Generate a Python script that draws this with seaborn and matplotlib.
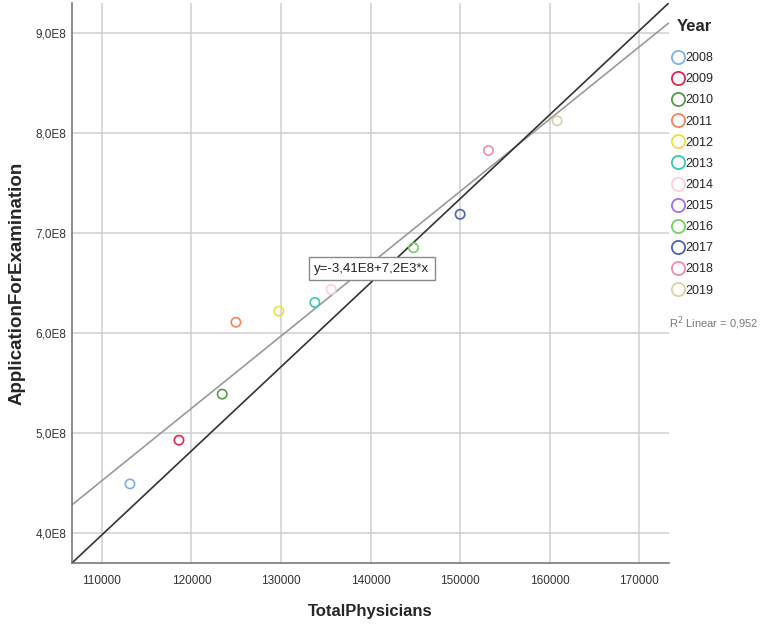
import numpy as np
import pandas as pd
import seaborn as sns
from matplotlib import pyplot as plt
from matplotlib.lines import Line2D
from matplotlib.ticker import FuncFormatter

years = [2008, 2009, 2010, 2011, 2012, 2013, 2014, 2015, 2016, 2017, 2018, 2019]
physicians = [113130, 118600, 123430, 124960, 129760, 133780, 135600, np.nan,
              144800, 150010, 153180, 160840]
applications = [4.491e8, 4.928e8, 5.389e8, 6.108e8, 6.219e8, 6.306e8, 6.436e8, np.nan,
                6.853e8, 7.188e8, 7.826e8, 8.123e8]
year_colors = ['#7fb0ea', '#e5264d', '#4f9e45', '#f4845a', '#ece03c', '#3fc5b5',
               '#fccfe0', '#a96cee', '#74d162', '#4c62b2', '#f58bb0', '#d9d2a6']
fit_label = 'y=-3,41E8+7,2E3*x'
r2_label = 'R$^2$ Linear = 0,952'

dt = pd.DataFrame({'Year': [str(y) for y in years],
                   'TotalPhysicians': physicians,
                   'ApplicationForExamination': applications})
pal = dict(zip(dt['Year'], year_colors))

sns.set_style('white')
plt.rcParams['font.family'] = ['Liberation Sans', 'DejaVu Sans']

fig = plt.figure(figsize=(7.61, 6.29), dpi=100)
ax = fig.add_axes([0.0946, 0.105, 0.784, 0.89])
ax.set_xlim(106650, 173300)
ax.set_ylim(3.70e8, 9.30e8)

sns.regplot(data=dt.dropna(), x='TotalPhysicians', y='ApplicationForExamination',
            scatter=False, ci=None, truncate=False, ax=ax,
            line_kws={'color': '#9a9a9a', 'lw': 1.2})
ax.plot([0, 1], [0, 1], transform=ax.transAxes, color='#333333', lw=1.2)

sns.scatterplot(data=dt, x='TotalPhysicians', y='ApplicationForExamination',
                hue='Year', hue_order=list(pal.keys()), palette=pal,
                s=45, linewidth=1.2, legend=False, ax=ax, zorder=3)
pts = ax.collections[-1]
pts.set_edgecolors(pts.get_facecolors())
pts.set_facecolors('none')

ax.set_xlim(106650, 173300)
ax.set_ylim(3.70e8, 9.30e8)
ax.set_xticks(range(110000, 170001, 10000))
ax.set_yticks([4e8, 5e8, 6e8, 7e8, 8e8, 9e8])
ax.yaxis.set_major_formatter(FuncFormatter(lambda v, p: f'{v / 1e8:.1f}'.replace('.', ',') + 'E8'))
ax.grid(True, color='#cfcfcf', lw=1.1)
ax.set_axisbelow(True)
for s in ['top', 'right']:
    ax.spines[s].set_visible(False)
for s in ['left', 'bottom']:
    ax.spines[s].set_color('#6e6e6e')
    ax.spines[s].set_linewidth(1.1)
ax.tick_params(length=0, labelsize=8.5, colors='#333333', pad=9)
ax.tick_params(axis='y', pad=4)
ax.set_xlabel('TotalPhysicians', fontsize=12, fontweight='bold', labelpad=12)
ax.set_ylabel('ApplicationForExamination', fontsize=13.5, fontweight='bold', labelpad=7)

ax.text(133700, 6.645e8, fit_label, fontsize=9.5, ha='left', va='center', color='#222222',
        bbox=dict(boxstyle='square,pad=0.4', fc='white', ec='#8a8a8a', lw=1), zorder=4)

handles = [Line2D([], [], marker='o', ls='', ms=9.5, mfc='none', mec=c, mew=1.3)
           for c in year_colors]
fig.text(0.889, 0.958, 'Year', fontsize=12, fontweight='bold', ha='left', va='center')
leg = fig.legend(handles, [str(y) for y in years], loc='upper left',
                 bbox_to_anchor=(0.883, 0.917), frameon=False, fontsize=9,
                 handlelength=1.0, handletextpad=0.1, labelspacing=0.73,
                 borderaxespad=0, borderpad=0)
fig.text(0.879, 0.486, r2_label, fontsize=8, color='#7a7a7a', ha='left', va='center')

fig.savefig('out.png', dpi=100)
